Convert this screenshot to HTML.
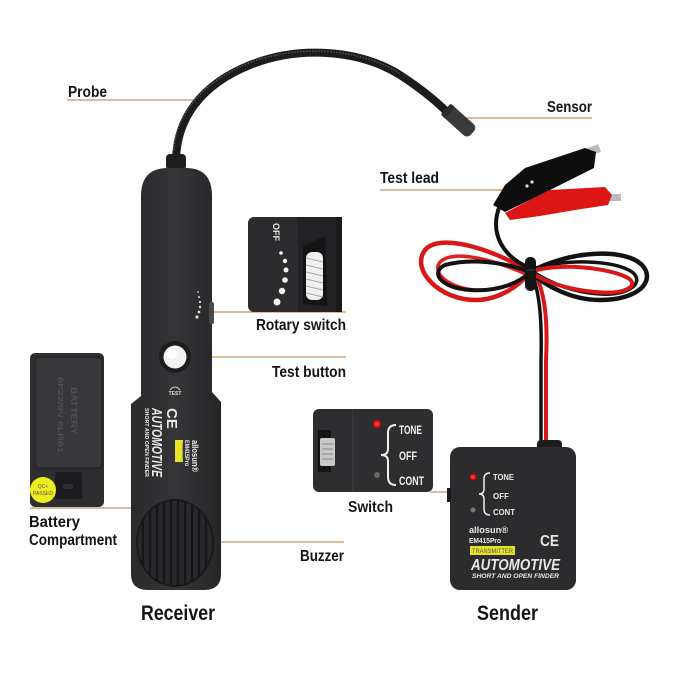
<!DOCTYPE html>
<html><head><meta charset="utf-8">
<style>
html,body{margin:0;padding:0;background:#fff;}
svg{display:block;}
.lb{font-family:"Liberation Sans Narrow","Liberation Sans",sans-serif;font-weight:bold;fill:#151515;}
.wt{font-family:"Liberation Sans",sans-serif;font-weight:bold;fill:#e8e8e8;}
.ln{stroke:#d3a47c;stroke-width:1.6;}
</style></head>
<body>
<svg width="680" height="700" viewBox="0 0 680 700" xmlns="http://www.w3.org/2000/svg">
<defs>
<clipPath id="spk"><ellipse cx="175" cy="543" rx="38" ry="43"/></clipPath>
<linearGradient id="gb" x1="0" x2="1" y1="0" y2="0">
<stop offset="0" stop-color="#2a2a2c"/><stop offset="0.5" stop-color="#353537"/><stop offset="1" stop-color="#262628"/>
</linearGradient>
</defs>
<rect width="680" height="700" fill="#fff"/>

<!-- leader lines -->
<line class="ln" x1="67" y1="100" x2="202" y2="100"/>
<line class="ln" x1="462" y1="118" x2="592" y2="118"/>
<line class="ln" x1="380" y1="190" x2="515" y2="190"/>
<line class="ln" x1="210" y1="312" x2="346" y2="312"/>
<line class="ln" x1="180" y1="357" x2="346" y2="357"/>
<line class="ln" x1="30" y1="508" x2="133" y2="508"/>
<line class="ln" x1="210" y1="542" x2="344" y2="542"/>
<line class="ln" x1="430" y1="492" x2="482" y2="492"/>

<!-- gooseneck -->
<path d="M176,162 C176,120 200,85 250,65 C300,45 360,50 400,75 C420,88 435,100 447,112" fill="none" stroke="#1c1c1e" stroke-width="8" stroke-linecap="round"/>
<path d="M174,150 C175,118 199,83 249,63 C299,44 359,48 399,73" fill="none" stroke="#555" stroke-width="1.5" stroke-dasharray="1.5 1.5"/>
<!-- sensor -->
<g transform="translate(459,121) rotate(42)">
<rect x="-18" y="-7.5" width="36" height="15" rx="5" fill="#3a3a3c"/>
<rect x="-18" y="-7.5" width="6" height="15" rx="2" fill="#2c2c2e"/>
</g>

<!-- receiver body -->
<rect x="166" y="154" width="20" height="16" rx="4" fill="#1e1e20"/>
<path d="M141,396 L141,196 Q141,168 168,168 L186,168 Q212,168 212,196 L212,392 L221,402 L221,574 Q221,590 204,590 L148,590 Q131,590 131,574 L131,404 Z" fill="url(#gb)"/>
<!-- side rotary on receiver -->
<rect x="209" y="302" width="5" height="22" rx="2" fill="#4a4a4c"/>
<g fill="#ddd">
<circle cx="198" cy="292" r="0.9"/><circle cx="199" cy="297" r="1"/><circle cx="200" cy="302" r="1.1"/>
<circle cx="200" cy="307" r="1.2"/><circle cx="199" cy="312" r="1.4"/><circle cx="197" cy="317" r="1.6"/>
</g>
<!-- test button -->
<circle cx="175" cy="357" r="16" fill="#1d1d1f"/>
<circle cx="175" cy="357" r="11.5" fill="#f2f2f2"/>
<circle cx="172" cy="354" r="5" fill="#fff"/>
<path d="M170,390 Q175,384 180,390" fill="none" stroke="#ccc" stroke-width="1"/>
<text x="175" y="395" font-family="Liberation Sans,sans-serif" font-size="5" font-weight="bold" fill="#ddd" text-anchor="middle">TEST</text>
<!-- receiver rotated text -->
<g transform="translate(167,408) rotate(90)"><text class="wt" font-size="15" x="0" y="0">CE</text></g>
<g transform="translate(152,408) rotate(90)"><text class="wt" font-size="15" font-style="italic" textLength="69" lengthAdjust="spacingAndGlyphs">AUTOMOTIVE</text></g>
<g transform="translate(145,408) rotate(90)"><text class="wt" font-size="5.5" textLength="69" lengthAdjust="spacingAndGlyphs">SHORT AND OPEN FINDER</text></g>
<rect x="175" y="440" width="8" height="22" fill="#e6e22a"/>
<g transform="translate(182,442) rotate(90)"><text font-family="Liberation Sans,sans-serif" font-size="5" fill="#444" textLength="18" lengthAdjust="spacingAndGlyphs">RECEIVER</text></g>
<g transform="translate(185,440) rotate(90)"><text class="wt" font-size="6" textLength="26" lengthAdjust="spacingAndGlyphs">EM415Pro</text></g>
<g transform="translate(192,440) rotate(90)"><text class="wt" font-size="9" textLength="32" lengthAdjust="spacingAndGlyphs">allosun®</text></g>
<!-- speaker -->
<ellipse cx="175" cy="543" rx="38" ry="43" fill="#29292b" stroke="#1a1a1c" stroke-width="2"/>
<g clip-path="url(#spk)" stroke="#161618" stroke-width="2.2">
<line x1="143" y1="495" x2="143" y2="590"/><line x1="150" y1="495" x2="150" y2="590"/>
<line x1="157" y1="495" x2="157" y2="590"/><line x1="164" y1="495" x2="164" y2="590"/>
<line x1="171" y1="495" x2="171" y2="590"/><line x1="178" y1="495" x2="178" y2="590"/>
<line x1="185" y1="495" x2="185" y2="590"/><line x1="192" y1="495" x2="192" y2="590"/>
<line x1="199" y1="495" x2="199" y2="590"/><line x1="206" y1="495" x2="206" y2="590"/>
</g>

<!-- rotary switch inset -->
<rect x="248" y="217" width="94" height="95" rx="6" fill="#2c2c2e"/>
<rect x="298" y="217" width="44" height="95" fill="#222224"/>
<rect x="336" y="217" width="6" height="95" fill="#1a1a1c"/>
<path d="M303,246 L325,236 L327,306 L303,304 Z" fill="#141416"/>
<rect x="306" y="252" width="17" height="48" rx="6" fill="#f0f0f0"/>
<g stroke="#aaa" stroke-width="1">
<line x1="306" y1="258" x2="323" y2="262"/><line x1="306" y1="265" x2="323" y2="269"/><line x1="306" y1="272" x2="323" y2="276"/>
<line x1="306" y1="279" x2="323" y2="283"/><line x1="306" y1="286" x2="323" y2="290"/><line x1="306" y1="293" x2="323" y2="297"/>
</g>
<g transform="translate(273,223) rotate(90)"><text font-family="Liberation Sans,sans-serif" font-weight="bold" font-size="9" fill="#eee">OFF</text></g>
<g fill="#f4f4f4">
<circle cx="281" cy="253" r="1.8"/><circle cx="285" cy="261" r="2.2"/><circle cx="286" cy="270" r="2.5"/>
<circle cx="285" cy="280" r="2.8"/><circle cx="282" cy="291" r="3.2"/><circle cx="277" cy="302" r="3.5"/>
</g>

<!-- battery inset -->
<rect x="30" y="353" width="74" height="154" rx="5" fill="#2e2e30"/>
<rect x="35" y="357" width="67" height="111" rx="4" fill="#38383a" stroke="#242426" stroke-width="1.5"/>
<g transform="translate(71,387) rotate(90)"><text font-family="Liberation Sans,sans-serif" font-size="8" fill="#58585a" textLength="48" lengthAdjust="spacingAndGlyphs">BATTERY</text></g>
<g transform="translate(58,377) rotate(90)"><text font-family="Liberation Sans,sans-serif" font-size="7" fill="#58585a" textLength="76" lengthAdjust="spacingAndGlyphs">6F22/9V 6LR61</text></g>
<rect x="55" y="472" width="27" height="27" rx="2" fill="#1c1c1e"/>
<rect x="63" y="484" width="10" height="5" fill="#2e2e30"/>
<circle cx="43" cy="490" r="13" fill="#ecec1e"/>
<text x="43" y="488" font-family="Liberation Sans,sans-serif" font-size="5" fill="#555" text-anchor="middle">QC+</text>
<text x="43" y="495" font-family="Liberation Sans,sans-serif" font-size="5" fill="#555" text-anchor="middle">PASSED</text>

<!-- test lead wires -->
<g fill="none" stroke-linecap="round">
<path d="M533,270 C545,290 548,320 546,360 L546,445" stroke="#d81818" stroke-width="4"/>
<path d="M530,270 C540,290 542,320 541,360 L541,445" stroke="#111" stroke-width="3.5"/>
<path d="M530,272 C495,250 440,232 425,250 C410,270 440,300 475,300 C500,300 520,285 530,272" stroke="#d81818" stroke-width="4.5"/>
<path d="M530,276 C500,262 455,248 440,262 C430,275 455,292 485,290 C505,288 522,282 530,276" stroke="#e02020" stroke-width="3.5"/>
<path d="M530,272 C505,262 470,258 445,265 C430,272 440,288 470,290 C500,292 520,282 530,272" stroke="#121212" stroke-width="4"/>
<path d="M530,272 C570,250 625,248 642,265 C656,280 640,300 600,300 C570,300 545,285 530,272" stroke="#121212" stroke-width="4.5"/>
<path d="M530,270 C565,258 615,260 632,272 C645,282 630,296 600,294 C570,292 548,282 530,270" stroke="#121212" stroke-width="3.5"/>
<path d="M530,272 C560,262 610,268 628,278 C640,286 625,295 595,292 C565,289 545,282 530,272" stroke="#d81818" stroke-width="4"/>
<path d="M530,268 C505,258 488,235 500,205" stroke="#111" stroke-width="4"/>
</g>
<!-- knot -->
<rect x="525" y="257" width="11" height="34" rx="5" fill="#141414"/>
<line x1="527" y1="270" x2="535" y2="270" stroke="#333" stroke-width="1.5"/>
<!-- red clip -->
<rect x="608" y="194" width="13" height="7" fill="#bbb"/>
<path d="M505,213 L530,200 L550,190 L605,187 L612,195 L608,205 L575,210 L540,216 L510,220 Z" fill="#dd1515"/>
<!-- black clip -->
<rect x="588" y="146" width="12" height="8" fill="#bbb" transform="rotate(-20 594 150)"/>
<path d="M493,205 L505,185 L525,168 L585,148 L596,152 L594,168 L560,185 L530,200 L505,212 Z" fill="#0e0e0e"/>
<circle cx="527" cy="186" r="1.6" fill="#ddd"/><circle cx="532" cy="182" r="1.6" fill="#ddd"/>

<!-- switch inset -->
<rect x="313" y="409" width="120" height="83" rx="6" fill="#2e2e30"/>
<line x1="353" y1="409" x2="353" y2="492" stroke="#3c3c3e" stroke-width="1.5"/>
<rect x="318" y="430" width="13" height="42" fill="#141416"/>
<rect x="320" y="438" width="15" height="28" rx="2" fill="#c8c8c8"/>
<g stroke="#888" stroke-width="1"><line x1="322" y1="444" x2="333" y2="444"/><line x1="322" y1="449" x2="333" y2="449"/><line x1="322" y1="454" x2="333" y2="454"/><line x1="322" y1="459" x2="333" y2="459"/></g>
<circle cx="377" cy="424" r="4.5" fill="#b01010"/><circle cx="377" cy="424" r="2.5" fill="#ff3030"/>
<circle cx="377" cy="475" r="3" fill="#666"/>
<path d="M396,425 Q388,425 388,433 L388,449 Q388,455 381,455 Q388,455 388,461 L388,477 Q388,485 396,485" fill="none" stroke="#eee" stroke-width="2"/>
<text class="lb" x="399" y="434" font-size="12" style="fill:#f0f0f0" textLength="23" lengthAdjust="spacingAndGlyphs">TONE</text>
<text class="lb" x="399" y="460" font-size="12" style="fill:#f0f0f0" textLength="18" lengthAdjust="spacingAndGlyphs">OFF</text>
<text class="lb" x="399" y="485" font-size="12" style="fill:#f0f0f0" textLength="25" lengthAdjust="spacingAndGlyphs">CONT</text>

<!-- sender -->
<rect x="537" y="440" width="25" height="12" rx="4" fill="#1c1c1e"/>
<rect x="450" y="447" width="126" height="143" rx="10" fill="#2c2c2e"/>
<rect x="447" y="488" width="4" height="14" fill="#1c1c1e"/>
<circle cx="473" cy="477" r="3.5" fill="#b01010"/><circle cx="473" cy="477" r="2" fill="#ff3030"/>
<circle cx="473" cy="510" r="2.5" fill="#777"/>
<path d="M490,473 Q484,473 484,479 L484,489 Q484,494 479,494 Q484,494 484,499 L484,509 Q484,515 490,515" fill="none" stroke="#eee" stroke-width="1.5"/>
<text class="wt" x="493" y="480" font-size="8" textLength="21" lengthAdjust="spacingAndGlyphs">TONE</text>
<text class="wt" x="493" y="499" font-size="8" textLength="16" lengthAdjust="spacingAndGlyphs">OFF</text>
<text class="wt" x="493" y="515" font-size="8" textLength="22" lengthAdjust="spacingAndGlyphs">CONT</text>
<text class="wt" x="469" y="533" font-size="9" textLength="39" lengthAdjust="spacingAndGlyphs">allosun®</text>
<text class="wt" x="469" y="543" font-size="7" textLength="32" lengthAdjust="spacingAndGlyphs">EM415Pro</text>
<rect x="470" y="546" width="45" height="9" fill="#e6e22a"/>
<text x="472" y="553" font-family="Liberation Sans,sans-serif" font-size="6" fill="#555" textLength="41" lengthAdjust="spacingAndGlyphs">TRANSMITTER</text>
<text class="wt" x="540" y="546" font-size="16" font-weight="normal" textLength="19" lengthAdjust="spacingAndGlyphs">CE</text>
<text class="wt" x="471" y="570" font-size="16" font-style="italic" textLength="89" lengthAdjust="spacingAndGlyphs">AUTOMOTIVE</text>
<text class="wt" x="472" y="578" font-size="6.5" font-style="italic" textLength="87" lengthAdjust="spacingAndGlyphs">SHORT AND OPEN FINDER</text>

<!-- labels -->
<text class="lb" x="68" y="97" font-size="16" textLength="39" lengthAdjust="spacingAndGlyphs">Probe</text>
<text class="lb" x="547" y="112" font-size="16" textLength="45" lengthAdjust="spacingAndGlyphs">Sensor</text>
<text class="lb" x="380" y="183" font-size="16" textLength="59" lengthAdjust="spacingAndGlyphs">Test lead</text>
<text class="lb" x="256" y="330" font-size="16" textLength="90" lengthAdjust="spacingAndGlyphs">Rotary switch</text>
<text class="lb" x="272" y="377" font-size="16" textLength="74" lengthAdjust="spacingAndGlyphs">Test button</text>
<text class="lb" x="348" y="512" font-size="16" textLength="45" lengthAdjust="spacingAndGlyphs">Switch</text>
<text class="lb" x="29" y="527" font-size="16" textLength="51" lengthAdjust="spacingAndGlyphs">Battery</text>
<text class="lb" x="29" y="545" font-size="16" textLength="88" lengthAdjust="spacingAndGlyphs">Compartment</text>
<text class="lb" x="300" y="561" font-size="16" textLength="44" lengthAdjust="spacingAndGlyphs">Buzzer</text>
<text class="lb" x="141" y="620" font-size="21" textLength="74" lengthAdjust="spacingAndGlyphs">Receiver</text>
<text class="lb" x="477" y="620" font-size="21" textLength="61" lengthAdjust="spacingAndGlyphs">Sender</text>
</svg>
</body></html>
